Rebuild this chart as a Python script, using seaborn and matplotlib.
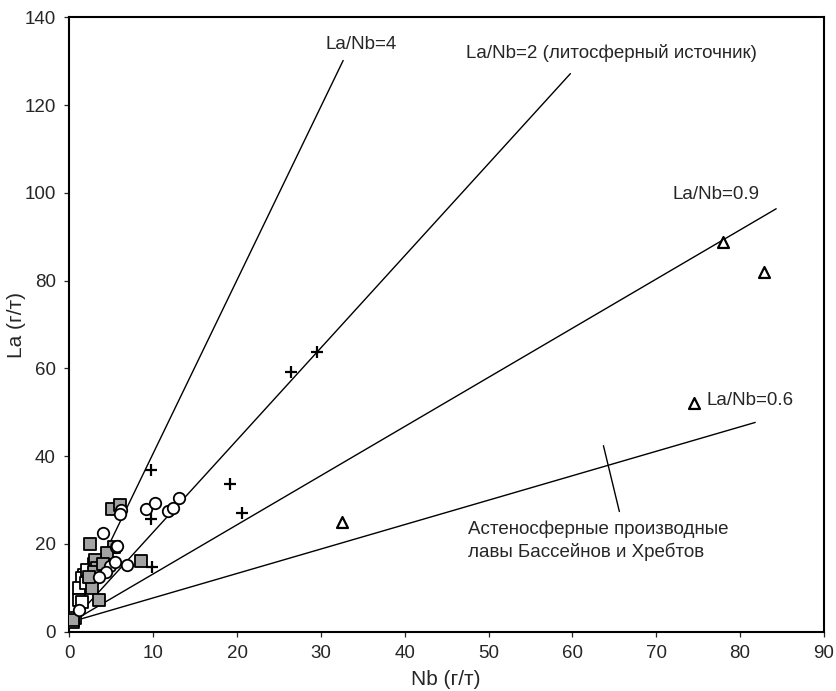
import numpy as np
import pandas as pd
import matplotlib
matplotlib.use("Agg")
import matplotlib.pyplot as plt
import seaborn as sns

# ---------------- data ----------------
# grey filled squares
sq_nb = [5.05, 6.1, 2.45, 5.3, 4.5, 8.6, 3.1, 3.3, 3.0, 2.7, 3.6, 0.5, 2.3, 4.0]
sq_la = [27.9, 28.9, 20.1, 19.2, 17.9, 16.1, 16.3, 14.6, 13.6, 10.0, 7.3, 2.6, 12.5, 15.5]
# open squares
osq_nb = [1.7, 1.5, 2.7, 1.1, 1.1, 1.5, 0.7, 2.0, 0.4, 3.0, 2.1]
osq_la = [12.9, 12.2, 12.2, 9.9, 7.2, 6.8, 3.1, 11.0, 2.2, 15.5, 14.0]
# open circles
ci_nb = [6.2, 6.0, 9.2, 10.2, 11.8, 12.4, 13.1, 4.05, 5.6, 5.7, 4.85, 6.84, 5.45, 4.4, 3.5, 1.2]
ci_la = [27.7, 26.9, 27.9, 29.4, 27.4, 28.1, 30.4, 22.5, 19.2, 19.6, 15.0, 15.2, 16.0, 13.5, 12.5, 5.0]
# crosses
pl_nb = [9.74, 9.74, 19.15, 20.6, 26.4, 29.5, 9.9]
pl_la = [36.9, 25.6, 33.7, 27.0, 59.3, 63.7, 14.7]
# open triangles
tr_nb = [32.5, 77.9, 82.8, 74.5]
tr_la = [24.9, 88.9, 81.9, 52.2]

# reference lines (start / end points)
line_names = ["La/Nb=4", "La/Nb=2", "La/Nb=0.9", "La/Nb=0.6"]
line_nb = [[0.3, 32.66], [0.3, 59.76], [0.3, 84.3], [0.3, 81.8]]
line_la = [[2.3, 130.2], [2.3, 127.2], [2.3, 96.4], [2.3, 47.7]]
# marker tick across the La/Nb=0.6 line
tick_nb = [63.7, 65.6]
tick_la = [42.4, 27.4]

# annotations
ann_text = ["La/Nb=4", "La/Nb=2 (литосферный источник)", "La/Nb=0.9", "La/Nb=0.6",
            "Астеносферные производные\nлавы Бассейнов и Хребтов"]
ann_nb = [30.6, 47.3, 71.9, 76.0, 47.5]
ann_la = [133.8, 132.0, 99.6, 52.8, 20.8]

x_ticks = [0, 10, 20, 30, 40, 50, 60, 70, 80, 90]
y_ticks = [0, 20, 40, 60, 80, 100, 120, 140]

# ---------------- style ----------------
sns.set_style("ticks")
plt.rcParams['font.family'] = ['Liberation Sans', 'DejaVu Sans']
plt.rcParams['axes.linewidth'] = 1.5
plt.rcParams['xtick.major.size'] = 3.6
plt.rcParams['ytick.major.size'] = 3.6
plt.rcParams['xtick.major.width'] = 0.9
plt.rcParams['ytick.major.width'] = 0.9

fig = plt.figure(figsize=(8.36, 6.91), dpi=100)
ax = fig.add_axes([0.0829, 0.0858, 0.9027, 0.8889])

# reference lines
for nbs, las in zip(line_nb, line_la):
    df = pd.DataFrame({"Nb": nbs, "La": las})
    sns.lineplot(data=df, x="Nb", y="La", ax=ax, color="black", lw=1.0,
                 sort=False, estimator=None)
sns.lineplot(data=pd.DataFrame({"Nb": tick_nb, "La": tick_la}), x="Nb", y="La",
             ax=ax, color="black", lw=1.0, sort=False, estimator=None)

# markers
sns.scatterplot(x=osq_nb, y=osq_la, ax=ax, marker="s", s=80, facecolor="white",
                edgecolor="black", linewidth=1.3, zorder=3)
sns.scatterplot(x=sq_nb, y=sq_la, ax=ax, marker="s", s=80, facecolor="#a3a3a3",
                edgecolor="black", linewidth=1.3, zorder=3)
sns.scatterplot(x=ci_nb, y=ci_la, ax=ax, marker="o", s=68, facecolor="white",
                edgecolor="black", linewidth=1.3, zorder=4)
sns.scatterplot(x=pl_nb, y=pl_la, ax=ax, marker="+", s=80, color="black",
                linewidth=1.6, zorder=4)
sns.scatterplot(x=tr_nb, y=tr_la, ax=ax, marker="^", s=62, facecolor="white",
                edgecolor="black", linewidth=1.6, zorder=4)

for t, xx, yy in zip(ann_text, ann_nb, ann_la):
    ax.text(xx, yy, t, fontsize=13.5, ha="left", va="center", linespacing=1.35)

ax.set_xlim(0, 90)
ax.set_ylim(0, 140)
ax.set_xticks(x_ticks)
ax.set_yticks(y_ticks)
ax.tick_params(labelsize=13.5, pad=6)
for sp in ax.spines.values():
    sp.set_visible(True)
    sp.set_color("black")

ax.set_xlabel("Nb (г/т)", fontsize=15)
ax.set_ylabel("La (г/т)", fontsize=15)
ax.xaxis.set_label_coords(0.499, -0.062)
ax.yaxis.set_label_coords(-0.058, 0.5)

fig.savefig("out.png", dpi=100)
